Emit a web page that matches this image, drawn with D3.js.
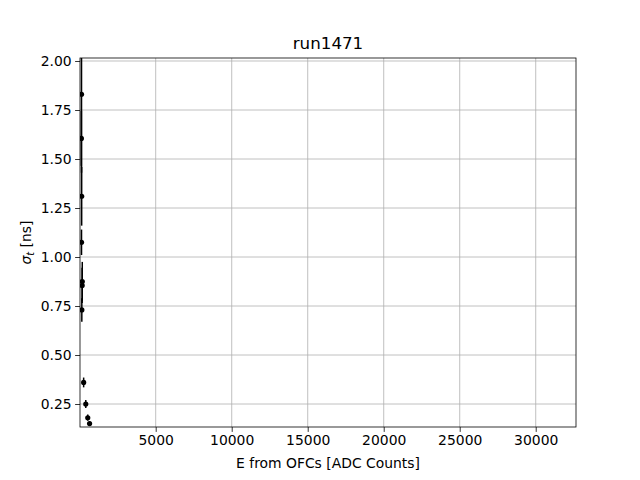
<!DOCTYPE html>
<html>
<head>
<meta charset="utf-8">
<script src="https://cdn.jsdelivr.net/npm/d3@7"></script>
<style>
  body { margin: 0; background: #fff; }
  text { font-family: "DejaVu Sans", sans-serif; }
</style>
</head>
<body>
<svg width="640" height="480"></svg>
<script>
// values
var energies = [120, 110, 130, 120, 170, 160, 140, 260, 400, 530, 650];
var sigmas   = [1.83, 1.605, 1.31, 1.075, 0.875, 0.855, 0.73, 0.36, 0.25, 0.18, 0.15];
var sigmaErr = [0.40, 0.14, 0.15, 0.065, 0.10, 0.09, 0.06, 0.025, 0.02, 0.016, 0.012];
var xTicks = [5000, 10000, 15000, 20000, 25000, 30000];
var yTicks = [0.25, 0.50, 0.75, 1.00, 1.25, 1.50, 1.75, 2.00];

var data = energies.map(function(e, i) {
  return {x: e, y: sigmas[i], err: sigmaErr[i]};
});

var svg = d3.select("svg");
var plotL = 80, plotR = 576, plotT = 58, plotB = 427;

var xScale = d3.scaleLinear().domain([20, 32650]).range([plotL, plotR]);
var yScale = d3.scaleLinear().domain([0.1327, 2.0153]).range([plotB, plotT]);

// grid
svg.append("g").selectAll("line").data(xTicks).enter().append("line")
  .attr("x1", function(d) { return xScale(d); })
  .attr("x2", function(d) { return xScale(d); })
  .attr("y1", plotT).attr("y2", plotB)
  .attr("stroke", "#b0b0b0").attr("stroke-width", 0.8);
svg.append("g").selectAll("line").data(yTicks).enter().append("line")
  .attr("y1", function(d) { return yScale(d); })
  .attr("y2", function(d) { return yScale(d); })
  .attr("x1", plotL).attr("x2", plotR)
  .attr("stroke", "#b0b0b0").attr("stroke-width", 0.8);

// clip for data
svg.append("clipPath").attr("id", "clip")
  .append("rect").attr("x", plotL).attr("y", plotT)
  .attr("width", plotR - plotL).attr("height", plotB - plotT);

var plot = svg.append("g").attr("clip-path", "url(#clip)");

// error bars
plot.selectAll(".err").data(data).enter().append("line")
  .attr("class", "err")
  .attr("x1", function(d) { return xScale(d.x); })
  .attr("x2", function(d) { return xScale(d.x); })
  .attr("y1", function(d) { return yScale(d.y - d.err); })
  .attr("y2", function(d) { return yScale(d.y + d.err); })
  .attr("stroke", "black").attr("stroke-width", 1.5);

plot.selectAll("circle").data(data).enter().append("circle")
  .attr("cx", function(d) { return xScale(d.x); })
  .attr("cy", function(d) { return yScale(d.y); })
  .attr("r", 2.6)
  .attr("fill", "black");

// axes
var xAxis = svg.append("g")
  .attr("transform", "translate(0," + plotB + ")")
  .call(d3.axisBottom(xScale).tickValues(xTicks).tickFormat(d3.format("d")).tickSizeOuter(0).tickSize(4.9).tickPadding(3.5));
var yAxis = svg.append("g")
  .attr("transform", "translate(" + plotL + ",0)")
  .call(d3.axisLeft(yScale).tickValues(yTicks).tickFormat(d3.format(".2f")).tickSizeOuter(0).tickSize(4.9).tickPadding(3.5));
[xAxis, yAxis].forEach(function(a) {
  a.select(".domain").remove();
  a.selectAll("line").attr("stroke", "black").attr("stroke-width", 0.8);
  a.selectAll("text").attr("font-size", "13.9px").attr("fill", "black")
    .style("font-family", "DejaVu Sans, sans-serif");
});

// frame
svg.append("rect")
  .attr("x", plotL).attr("y", plotT)
  .attr("width", plotR - plotL).attr("height", plotB - plotT)
  .attr("fill", "none").attr("stroke", "black").attr("stroke-width", 0.8);

// title and labels
svg.append("text")
  .text("run1471")
  .attr("x", (plotL + plotR) / 2)
  .attr("y", 49)
  .attr("text-anchor", "middle")
  .attr("font-size", "16.7px");

svg.append("text")
  .text("E from OFCs [ADC Counts]")
  .attr("x", (plotL + plotR) / 2)
  .attr("y", 468)
  .attr("text-anchor", "middle")
  .attr("font-size", "13.9px");

var ylab = svg.append("text")
  .attr("transform", "translate(31," + ((plotT + plotB) / 2) + ") rotate(-90)")
  .attr("text-anchor", "middle")
  .attr("font-size", "13.9px");
ylab.append("tspan").text("σ").attr("font-style", "italic");
ylab.append("tspan").text("t").attr("font-style", "italic")
  .attr("font-size", "9.7px").attr("dy", "3");
ylab.append("tspan").text(" [ns]").attr("dy", "-3");
</script>
</body>
</html>
